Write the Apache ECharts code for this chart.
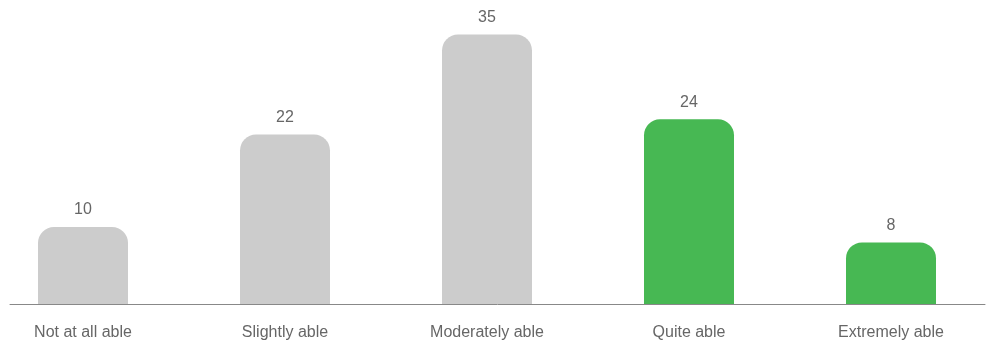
<!DOCTYPE html>
<html>
<head>
<meta charset="utf-8">
<title>Ability ratings</title>
<script src="https://cdn.jsdelivr.net/npm/echarts@6/dist/echarts.min.js"></script>
<style>
  html, body { margin: 0; padding: 0; background: #ffffff; }
  #chart { width: 987px; height: 342px; }
</style>
</head>
<body>
<div id="chart"></div>
<script>
// Response categories and counts
const categories = ['Not at all able', 'Slightly able', 'Moderately able', 'Quite able', 'Extremely able'];
const counts = [10, 22, 35, 24, 8];
// Which responses are highlighted in green
const highlighted = [false, false, false, true, true];

const GREY = '#cccccc';
const GREEN = '#47b853';
const TEXT = '#666666';
const FONT = '"Liberation Sans", Arial, sans-serif';

const chart = echarts.init(document.getElementById('chart'), null, { renderer: 'canvas' });

chart.setOption({
  animation: false,
  backgroundColor: '#ffffff',
  grid: [
    // bars
    { left: -18, width: 1010, top: -4, bottom: 38, containLabel: false, outerBoundsMode: 'none' },
    // baseline only
    { left: 10, right: 2, top: -4, bottom: 38, containLabel: false, outerBoundsMode: 'none' }
  ],
  xAxis: [
    {
      type: 'category',
      gridIndex: 0,
      data: categories,
      axisLine: { show: false },
      axisTick: { show: false },
      axisLabel: { color: TEXT, fontSize: 16, fontFamily: FONT, margin: 21 }
    },
    {
      type: 'category',
      gridIndex: 1,
      data: categories,
      axisLine: { show: true, lineStyle: { color: '#888888', width: 1 } },
      axisTick: { show: false },
      axisLabel: { show: false }
    }
  ],
  yAxis: [
    { type: 'value', gridIndex: 0, min: 0, max: 40, show: false, splitLine: { show: false } },
    { type: 'value', gridIndex: 1, min: 0, max: 40, show: false, splitLine: { show: false } }
  ],
  series: [
    {
      type: 'bar',
      xAxisIndex: 0,
      yAxisIndex: 0,
      barWidth: 90,
      data: counts.map((v, i) => ({
        value: v,
        itemStyle: { color: highlighted[i] ? GREEN : GREY, borderRadius: [16, 16, 0, 0] }
      })),
      label: {
        show: true,
        position: 'top',
        distance: 9,
        color: TEXT,
        fontSize: 16,
        fontFamily: FONT
      }
    }
  ]
});
</script>
</body>
</html>
